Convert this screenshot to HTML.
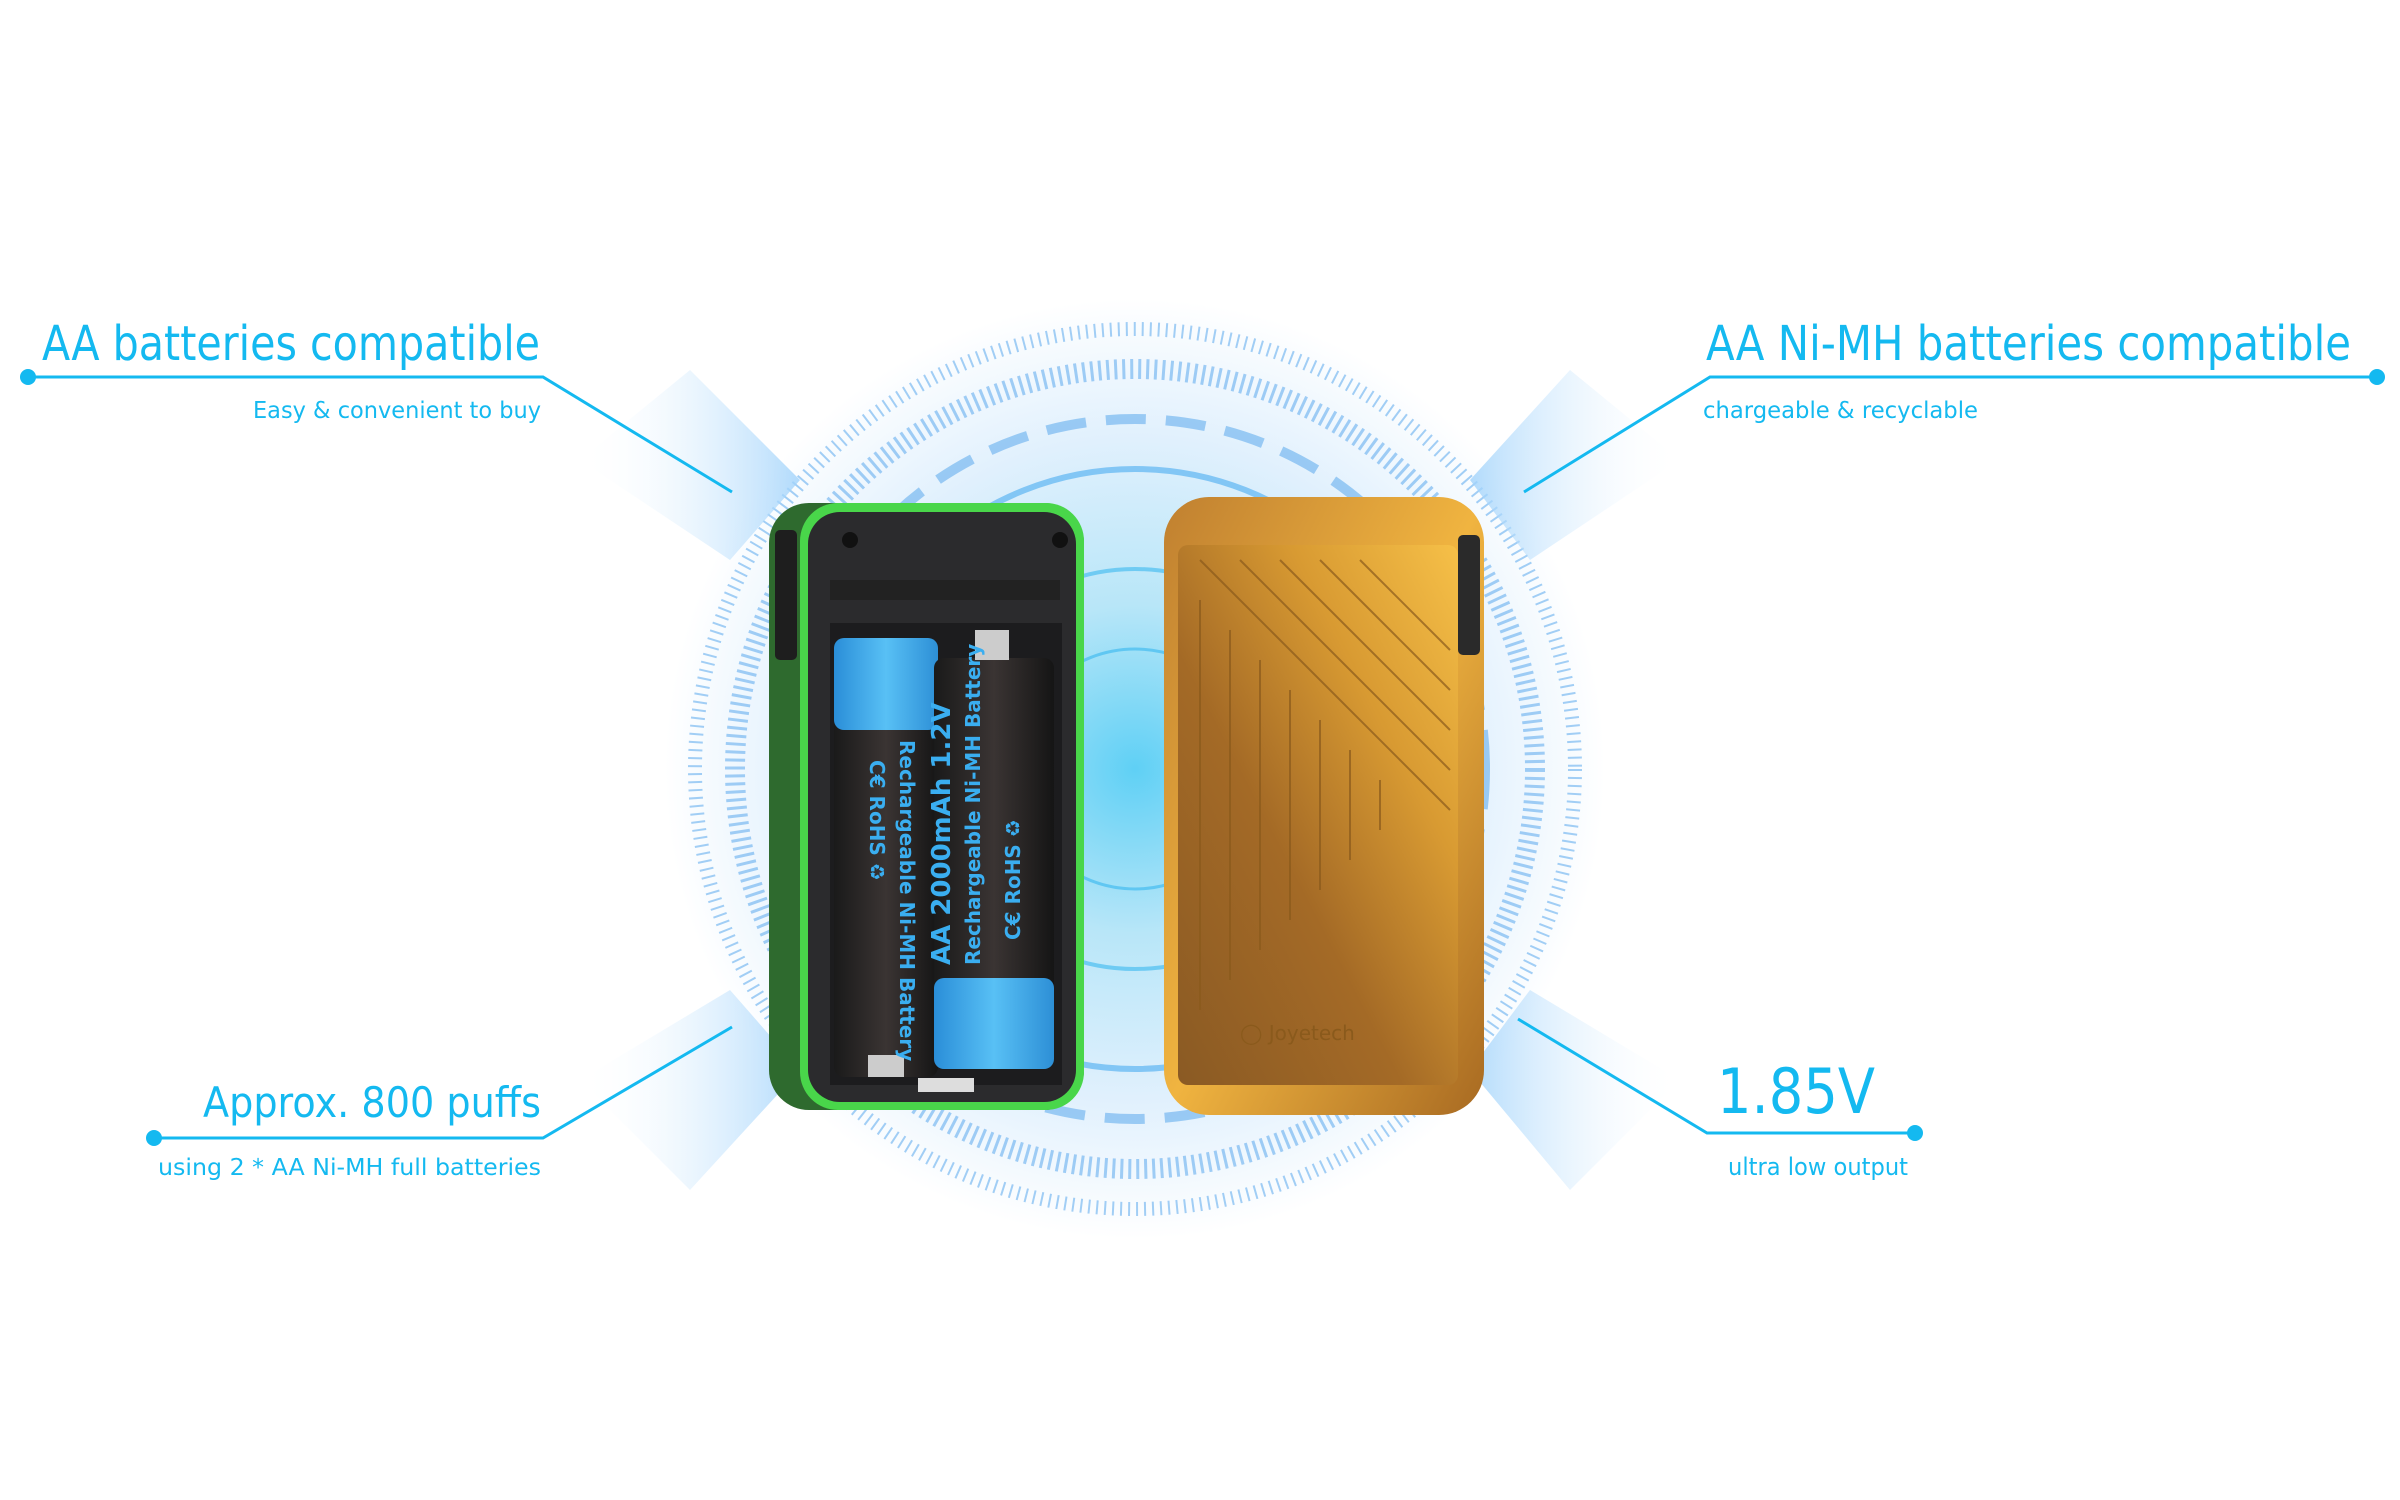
<!DOCTYPE html>
<html><head><meta charset="utf-8"><style>
html,body{margin:0;padding:0;background:#fff;}
svg{display:block}
text{font-family:"DejaVu Sans","Liberation Sans",sans-serif;fill:#14b9f0;}
</style></head><body>
<svg width="2400" height="1500" viewBox="0 0 2400 1500" xmlns="http://www.w3.org/2000/svg">
<defs>
<radialGradient id="glow" cx="1135" cy="769" r="470" gradientUnits="userSpaceOnUse">
<stop offset="0" stop-color="#5fd0f5"/>
<stop offset="0.35" stop-color="#b8e6f8"/>
<stop offset="0.7" stop-color="#e0f0fd"/>
<stop offset="1" stop-color="#ffffff"/>
</radialGradient>
<linearGradient id="beamL" x1="0" y1="0" x2="1" y2="0"><stop offset="0" stop-color="#fff" stop-opacity="0"/><stop offset="1" stop-color="#9fd2fb" stop-opacity="0.8"/></linearGradient>
<linearGradient id="beamR" x1="1" y1="0" x2="0" y2="0"><stop offset="0" stop-color="#fff" stop-opacity="0"/><stop offset="1" stop-color="#9fd2fb" stop-opacity="0.8"/></linearGradient>
<linearGradient id="gold" x1="1" y1="0" x2="0" y2="1">
<stop offset="0" stop-color="#f6c048"/><stop offset="0.3" stop-color="#d89a32"/><stop offset="0.6" stop-color="#a46a26"/><stop offset="1" stop-color="#8a5a24"/></linearGradient>
<linearGradient id="goldside" x1="0" y1="0" x2="1" y2="1"><stop offset="0" stop-color="#c08030"/><stop offset="0.5" stop-color="#f0b440"/><stop offset="1" stop-color="#a86a22"/></linearGradient>
<linearGradient id="bat" x1="0" y1="0" x2="1" y2="0"><stop offset="0" stop-color="#1a1a1a"/><stop offset="0.5" stop-color="#3a3433"/><stop offset="1" stop-color="#151515"/></linearGradient>
<linearGradient id="batblue" x1="0" y1="0" x2="1" y2="0"><stop offset="0" stop-color="#2a8ed8"/><stop offset="0.5" stop-color="#58c0f5"/><stop offset="1" stop-color="#2d8fd6"/></linearGradient>
</defs>

<circle cx="1135" cy="769" r="470" fill="url(#glow)"/>
<g fill="none" stroke="#5aa8ec" stroke-opacity="0.55">
<circle cx="1135" cy="769" r="440" stroke-width="14" stroke-dasharray="2 6"/>
<circle cx="1135" cy="769" r="400" stroke-width="20" stroke-dasharray="3 5"/>
<circle cx="1135" cy="769" r="350" stroke-width="10" stroke-dasharray="40 20"/>
<circle cx="1135" cy="769" r="300" stroke-width="6" stroke="#3aa6ee"/>
<circle cx="1135" cy="769" r="200" stroke-width="4" stroke="#2cb2ef"/>
<circle cx="1135" cy="769" r="120" stroke-width="3" stroke="#2cb2ef"/>
</g>
<polygon points="580,460 690,370 800,480 730,560" fill="url(#beamL)"/>
<polygon points="580,1080 690,1190 800,1070 730,990" fill="url(#beamL)"/>
<polygon points="1680,460 1570,370 1470,480 1530,560" fill="url(#beamR)"/>
<polygon points="1680,1080 1570,1190 1470,1070 1530,990" fill="url(#beamR)"/>

<!-- left device -->
<rect x="769" y="503" width="315" height="607" rx="40" fill="#2e6a2e"/>
<rect x="800" y="503" width="284" height="607" rx="38" fill="#49d64a"/>
<rect x="808" y="512" width="268" height="590" rx="32" fill="#2b2b2d"/>
<rect x="775" y="530" width="22" height="130" rx="5" fill="#1e1e1e"/>
<circle cx="850" cy="540" r="8" fill="#111"/><circle cx="1060" cy="540" r="8" fill="#111"/>
<rect x="830" y="580" width="230" height="20" fill="#222"/>
<rect x="830" y="623" width="232" height="462" fill="#1c1c1e"/>
<rect x="834" y="638" width="104" height="439" rx="10" fill="url(#bat)"/>
<rect x="834" y="638" width="104" height="92" rx="10" fill="url(#batblue)"/>
<rect x="868" y="1055" width="36" height="22" fill="#ccc"/>
<text transform="translate(900,740) rotate(90)" font-size="20" font-weight="bold" style="fill:#3aaef0">Rechargeable Ni-MH Battery</text>
<text transform="translate(870,760) rotate(90)" font-size="20" font-weight="bold" style="fill:#3aaef0">C€ RoHS ♻</text>
<rect x="934" y="658" width="120" height="411" rx="10" fill="url(#bat)"/>
<rect x="934" y="978" width="120" height="91" rx="10" fill="url(#batblue)"/>
<rect x="975" y="630" width="34" height="30" fill="#ccc"/>
<text transform="translate(950,965) rotate(-90)" font-size="26" font-weight="bold" style="fill:#3aaef0">AA 2000mAh 1.2V</text>
<text transform="translate(980,965) rotate(-90)" font-size="20" font-weight="bold" style="fill:#3aaef0">Rechargeable Ni-MH Battery</text>
<text transform="translate(1020,940) rotate(-90)" font-size="20" font-weight="bold" style="fill:#3aaef0">C€ RoHS ♻</text>
<rect x="918" y="1078" width="56" height="14" fill="#ddd"/>

<!-- right device -->
<rect x="1164" y="497" width="320" height="618" rx="45" fill="url(#goldside)"/>
<rect x="1178" y="545" width="280" height="540" rx="10" fill="url(#gold)"/>
<rect x="1458" y="535" width="22" height="120" rx="5" fill="#2a2a2a"/>
<g stroke="#8a5a1c" stroke-width="2" opacity="0.7" fill="none">
<line x1="1200" y1="560" x2="1450" y2="810"/><line x1="1240" y1="560" x2="1450" y2="770"/><line x1="1280" y1="560" x2="1450" y2="730"/><line x1="1320" y1="560" x2="1450" y2="690"/><line x1="1360" y1="560" x2="1450" y2="650"/>
<line x1="1200" y1="600" x2="1200" y2="1010"/><line x1="1230" y1="630" x2="1230" y2="980"/><line x1="1260" y1="660" x2="1260" y2="950"/><line x1="1290" y1="690" x2="1290" y2="920"/><line x1="1320" y1="720" x2="1320" y2="890"/><line x1="1350" y1="750" x2="1350" y2="860"/><line x1="1380" y1="780" x2="1380" y2="830"/>
</g>
<text x="1240" y="1040" font-size="20" style="fill:#8a5a1c">◯ Joyetech</text>

<g stroke="#14b9f0" stroke-width="3" fill="none">
<polyline points="28,377 543,377 732,492"/>
<polyline points="2377,377 1710,377 1524,492"/>
<polyline points="154,1138 543,1138 732,1027"/>
<polyline points="1915,1133 1707,1133 1518,1019"/>
</g>
<g fill="#14b9f0">
<circle cx="28" cy="377" r="8"/><circle cx="2377" cy="377" r="8"/>
<circle cx="154" cy="1138" r="8"/><circle cx="1915" cy="1133" r="8"/>
</g>

<text x="42" y="360" font-size="48" textLength="498" lengthAdjust="spacingAndGlyphs">AA batteries compatible</text>
<text x="541" y="418" font-size="23" text-anchor="end" textLength="288" lengthAdjust="spacingAndGlyphs">Easy &amp; convenient to buy</text>
<text x="1706" y="360" font-size="48" textLength="645" lengthAdjust="spacingAndGlyphs">AA Ni-MH batteries compatible</text>
<text x="1703" y="418" font-size="23" textLength="275" lengthAdjust="spacingAndGlyphs">chargeable &amp; recyclable</text>
<text x="203" y="1117" font-size="42" textLength="338" lengthAdjust="spacingAndGlyphs">Approx. 800 puffs</text>
<text x="158" y="1175" font-size="23" textLength="383" lengthAdjust="spacingAndGlyphs">using 2 * AA Ni-MH full batteries</text>
<text x="1717" y="1113" font-size="62" textLength="158" lengthAdjust="spacingAndGlyphs">1.85V</text>
<text x="1728" y="1175" font-size="24" textLength="180" lengthAdjust="spacingAndGlyphs">ultra low output</text>
</svg>
</body></html>
